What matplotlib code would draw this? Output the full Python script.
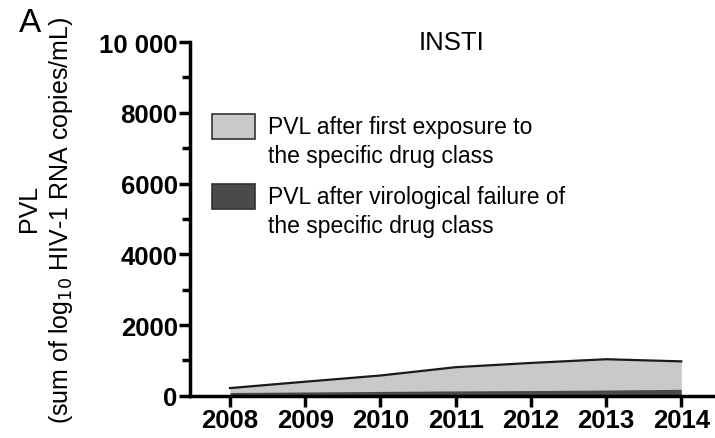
import numpy as np
import matplotlib
matplotlib.use("Agg")
from matplotlib import pyplot as plt
from matplotlib.patches import Rectangle
from matplotlib.ticker import MultipleLocator, FuncFormatter

plt.rcParams['font.family'] = ['Liberation Sans', 'DejaVu Sans']

years = [2008, 2009, 2010, 2011, 2012, 2013, 2014]
pvl_exposure = [220, 400, 575, 810, 930, 1035, 975]
pvl_failure = [95, 110, 125, 140, 150, 165, 185]
legend_labels = ['PVL after first exposure to\nthe specific drug class',
                 'PVL after virological failure of\nthe specific drug class']
light = '#c9c9c9'
dark = '#4a4a4a'

fig = plt.figure(figsize=(7.15, 4.39), dpi=100)
ax = fig.add_axes([0.266, 0.096, 0.731, 0.806])

ax.fill_between(years, 0, pvl_exposure, color=light, lw=0)
ax.plot(years, pvl_exposure, color='#1a1a1a', lw=1.6)
ax.fill_between(years, 0, pvl_failure, color=dark, lw=0)

ax.set_xlim(2007.47, 2014.42)
ax.set_ylim(0, 10000)
ax.set_xticks(years)
ax.yaxis.set_major_locator(MultipleLocator(2000))
ax.yaxis.set_minor_locator(MultipleLocator(1000))
ax.yaxis.set_major_formatter(FuncFormatter(lambda v, p: '10 000' if v == 10000 else '%d' % v))

for s in ['top', 'right']:
    ax.spines[s].set_visible(False)
for s in ['left', 'bottom']:
    ax.spines[s].set_linewidth(2.5)
ax.tick_params(axis='both', which='major', width=2.5, length=8, labelsize=18.5, pad=1)
ax.tick_params(axis='y', which='minor', width=2.5, length=5.5)
for lab in ax.get_xticklabels() + ax.get_yticklabels():
    lab.set_fontweight('bold')

ax.text(0.5, 1.0, 'INSTI', transform=ax.transAxes, ha='center', va='center', fontsize=18.5)

# y label in two pieces, "PVL" sits on its own line further left
ax.set_ylabel('(sum of log$_{10}$ HIV-1 RNA copies/mL)', fontsize=18)
ax.yaxis.set_label_coords(-0.22, 0.5)
fig.text(29 / 715, 1 - 208 / 439, 'PVL', rotation=90, ha='center', va='center', fontsize=18)
fig.text(0.027, 0.927, 'A', fontsize=24)

# legend drawn by hand: handle sits level with the first text line
for i, (col, lab) in enumerate(zip([light, dark], legend_labels)):
    y0 = 0.726 - i * 0.198
    ax.add_patch(Rectangle((0.042, y0), 0.082, 0.071, transform=ax.transAxes,
                           facecolor=col, edgecolor='#333333', lw=1.2, clip_on=False))
    ax.text(0.149, 0.661 - i * 0.198, lab, transform=ax.transAxes, fontsize=16.5,
            ha='left', va='baseline', linespacing=1.32)

fig.savefig('out.png', dpi=100)
